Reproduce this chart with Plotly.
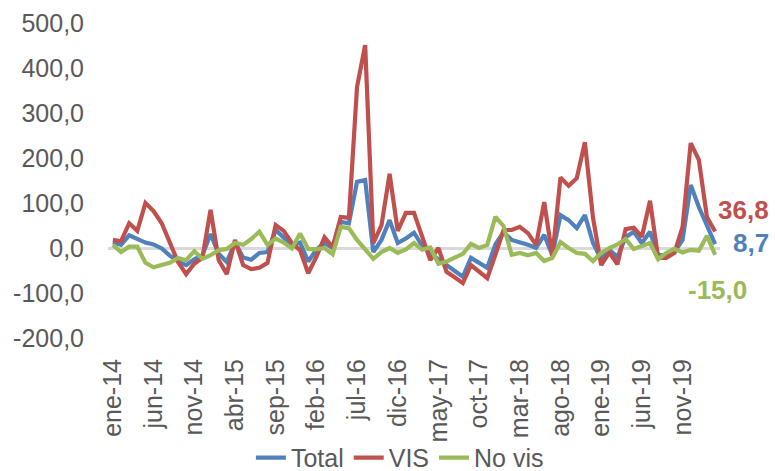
import plotly.graph_objects as go

months = ["ene", "feb", "mar", "abr", "may", "jun", "jul", "ago", "sep", "oct", "nov", "dic"]
categories = [f"{m}-{y}" for y in range(14, 21) for m in months][:75]

total = [13, 7, 28, 19, 12, 8, -1, -17, -30, -38, -25, -16, 31, -13, -31, 12, -21, -26, -11, -9,
         40, 23, 6, 12, -30, -4, 11, 0, 58, 55, 147, 151, -9, 18, 62, 11, 21, 34, 5, -12,
         -25, -36, -50, -64, -22, -33, -44, 8, 35, 18, 13, 7, 0, 29, -16, 73, 62, 44, 73, 11,
         -25, -4, -20, 24, 36, 11, 36, -16, -16, -9, 18, 140, 91, 47, 8.7]
vis = [18, 15, 55, 38, 100, 82, 55, 11, -31, -58, -35, -22, 85, -27, -58, 18, -38, -47, -44, -33,
       51, 38, 11, -5, -56, -20, 24, 2, 69, 67, 358, 451, 11, 50, 165, 38, 78, 78, 22, -27,
       0, -53, -65, -78, -38, -52, -67, -15, 40, 40, 47, 33, 7, 102, -18, 157, 138, 155, 235, 67,
       -38, -10, -36, 42, 45, 25, 105, -22, -22, -11, 47, 233, 196, 68, 36.8]
novis = [7, -9, 3, 3, -33, -43, -38, -33, -22, -27, -7, -24, -16, -5, -2, 11, 7, 20, 36, 7,
         21, 12, -1, 32, -2, -3, 0, -14, 47, 44, 18, -3, -24, -9, 0, -11, -3, 11, -4, 1,
         -35, -30, -22, -13, 9, 0, 7, 69, 49, -15, -11, -16, -11, -29, -22, 13, 0, -11, -13, -29,
         -11, 0, 8, 20, -2, 5, 11, -25, -11, -2, -10, -4, -6, 27, -15]

ytick_vals = [-200, -100, 0, 100, 200, 300, 400, 500]
ytick_text = ["-200,0", "-100,0", "0,0", "100,0", "200,0", "300,0", "400,0", "500,0"]

series = [("Total", total, "#4F81BD"), ("VIS", vis, "#C0504D"), ("No vis", novis, "#9BBB59")]
# text, anchor, xshift, yshift
end_labels = {"Total": ("8,7", "right", 56, 1), "VIS": ("36,8", "right", 56, 21),
              "No vis": ("-15,0", "center", 2, -35)}

FONT = "Liberation Sans, Arial, sans-serif"
GRAY = "#595959"

fig = go.Figure()
for name, vals, col in series:
    fig.add_trace(go.Scatter(x=categories, y=vals, name=name, mode="lines",
                             line=dict(color=col, width=4.2), cliponaxis=False))

for name, vals, col in series:
    txt, anc, xs, ys = end_labels[name]
    fig.add_annotation(x=categories[-1], y=vals[-1], text=f"<b>{txt}</b>", showarrow=False,
                       xshift=xs, yshift=ys, xanchor=anc, yanchor="middle",
                       font=dict(family=FONT, size=26, color=col))

fig.update_layout(
    width=775, height=471,
    margin=dict(l=108, r=55, t=23, b=133, autoexpand=False),
    plot_bgcolor="white", paper_bgcolor="white",
    font=dict(family=FONT, size=25, color=GRAY),
    showlegend=True,
    legend=dict(orientation="h", xref="container", yref="container",
                x=0.516, xanchor="center", y=0.028, yanchor="middle",
                font=dict(family=FONT, size=25, color=GRAY), itemwidth=30,
                bgcolor="rgba(0,0,0,0)", tracegroupgap=0),
)
fig.update_xaxes(type="category", range=[-0.6, 74.6], tickvals=categories[::5],
                 ticktext=categories[::5], tickangle=-90, showgrid=False, showline=False,
                 zeroline=False, ticks="outside", ticklen=10, tickcolor="rgba(0,0,0,0)",
                 automargin=False,
                 tickfont=dict(family=FONT, size=25, color=GRAY))
fig.update_yaxes(range=[-200, 500], tickvals=ytick_vals, ticktext=ytick_text, showgrid=False,
                 zeroline=True, zerolinecolor="#D9D9D9", zerolinewidth=2.5, showline=False,
                 ticks="outside", ticklen=18, tickcolor="rgba(0,0,0,0)", automargin=False,
                 tickfont=dict(family=FONT, size=25, color=GRAY))

fig.write_html("out.html", config={"displayModeBar": False},
               post_script="document.body.style.margin='0';document.body.style.overflow='hidden';")
